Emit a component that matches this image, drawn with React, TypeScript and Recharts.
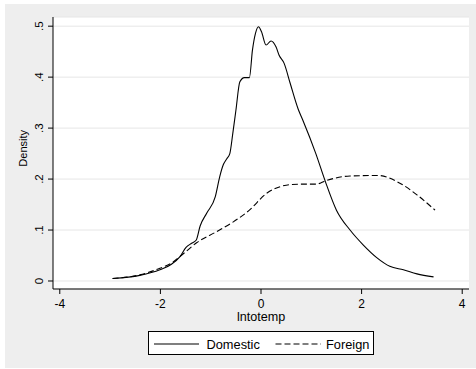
import { LineChart, Line, XAxis, YAxis, CartesianGrid, Label } from 'recharts';

// kernel density estimates
const domesticX = [
  -2.95, -2.41, -2.01, -1.78, -1.61, -1.49, -1.38, -1.29, -1.21, -1.08, -0.91, -0.82, -0.75, -0.68,
  -0.62, -0.56, -0.5, -0.42, -0.33, -0.23, -0.17, -0.11, -0.05, 0.01, 0.1, 0.2, 0.3, 0.36, 0.46,
  0.58, 0.74, 0.83, 1.09, 1.28, 1.5, 1.77, 2.03, 2.3, 2.56, 2.83, 3.1, 3.43,
];
const domesticY = [
  0.005, 0.011, 0.022, 0.033, 0.048, 0.066, 0.074, 0.08, 0.108, 0.133, 0.165, 0.205, 0.228, 0.24,
  0.25, 0.29, 0.334, 0.391, 0.399, 0.399, 0.453, 0.486, 0.499, 0.489, 0.463, 0.471, 0.459, 0.443,
  0.427, 0.388, 0.337, 0.316, 0.25, 0.195, 0.139, 0.1, 0.071, 0.046, 0.029, 0.022, 0.014, 0.008,
];

const foreignX = [
  -2.95, -2.41, -2.01, -1.78, -1.61, -1.28, -0.88, -0.55, -0.22, 0.11, 0.38, 0.5, 0.78, 1.09, 1.29,
  1.77, 2.33, 2.76, 3.1, 3.46,
];
const foreignY = [
  0.005, 0.012, 0.025, 0.035, 0.048, 0.075, 0.097, 0.116, 0.14, 0.172, 0.185, 0.188, 0.19, 0.19,
  0.197, 0.206, 0.207, 0.192, 0.169, 0.139,
];

const xTicks = [-4, -2, 0, 2, 4];
const yTicks = [0, 0.1, 0.2, 0.3, 0.4, 0.5];

const domestic = domesticX.map((x, i) => ({ x, y: domesticY[i] }));
const foreign = foreignX.map((x, i) => ({ x, y: foreignY[i] }));

const FONT = '"Liberation Sans", Arial, sans-serif';

const fmtY = (v: number) => (v === 0 ? '0' : String(v).replace(/^0/, ''));

const YTick = ({ y, payload }: any) => (
  <text
    x={43.5}
    y={y}
    transform={`rotate(-90, 43.5, ${y})`}
    textAnchor="middle"
    fontSize={11.5}
    fontFamily={FONT}
    fill="#000"
  >
    {fmtY(payload.value)}
  </text>
);

const XTick = ({ x, payload }: any) => (
  <text x={x} y={308} textAnchor="middle" fontSize={12} fontFamily={FONT} fill="#000">
    {payload.value}
  </text>
);

export default function App() {
  return (
    <div style={{ position: 'absolute', left: 0, top: 0, width: 476, height: 369, background: '#fff' }}>
      <div style={{ position: 'absolute', left: 5, top: 4, width: 471, height: 364, background: '#eeeeee' }} />
      <div style={{ position: 'absolute', left: 0, top: 0 }}>
        <LineChart width={476} height={369} data={domestic} margin={{ top: 17, right: 7, left: 0, bottom: 50 }}>
          <CartesianGrid horizontal vertical={false} fill="#ffffff" stroke="#e6e6e6" strokeWidth={1} />
          <XAxis
            dataKey="x"
            type="number"
            domain={[-4.135, 4.135]}
            ticks={xTicks}
            allowDataOverflow
            height={30}
            stroke="#000"
            tickSize={5}
            tick={<XTick />}
          >
            <Label
              content={() => (
                <text x={261.2} y={320.5} textAnchor="middle" fontSize={12.6} fontFamily={FONT} fill="#000">
                  lntotemp
                </text>
              )}
            />
          </XAxis>
          <YAxis
            dataKey="y"
            type="number"
            domain={[-0.0157, 0.518]}
            ticks={yTicks}
            allowDataOverflow
            width={53}
            stroke="#000"
            tickSize={5}
            tick={<YTick />}
          >
            <Label
              content={() => (
                <text
                  x={27}
                  y={148.3}
                  transform="rotate(-90, 27, 148.3)"
                  textAnchor="middle"
                  fontSize={11}
                  fontFamily={FONT}
                  fill="#000"
                >
                  Density
                </text>
              )}
            />
          </YAxis>
          <Line
            data={domestic}
            dataKey="y"
            type="monotone"
            stroke="#000"
            strokeWidth={1.1}
            dot={false}
            isAnimationActive={false}
          />
          <Line
            data={foreign}
            dataKey="y"
            type="monotone"
            stroke="#000"
            strokeWidth={1.1}
            strokeDasharray="6 3"
            dot={false}
            isAnimationActive={false}
          />
        </LineChart>
      </div>
      <div
        style={{
          position: 'absolute',
          left: 148,
          top: 331,
          width: 224,
          height: 22,
          background: '#fff',
          border: '1px solid #000',
          fontFamily: FONT,
          fontSize: 12.8,
        }}
      >
        <svg width={224} height={22} style={{ position: 'absolute', left: 0, top: 0 }}>
          <line x1={5} x2={50} y1={12} y2={12} stroke="#000" strokeWidth={1.1} />
          <text x={57.5} y={16.5} fontSize={12.8} fontFamily={FONT} fill="#000">
            Domestic
          </text>
          <line x1={126.5} x2={172} y1={12} y2={12} stroke="#000" strokeWidth={1.1} strokeDasharray="6 3" />
          <text x={177} y={16.5} fontSize={12.8} fontFamily={FONT} fill="#000">
            Foreign
          </text>
        </svg>
      </div>
    </div>
  );
}
